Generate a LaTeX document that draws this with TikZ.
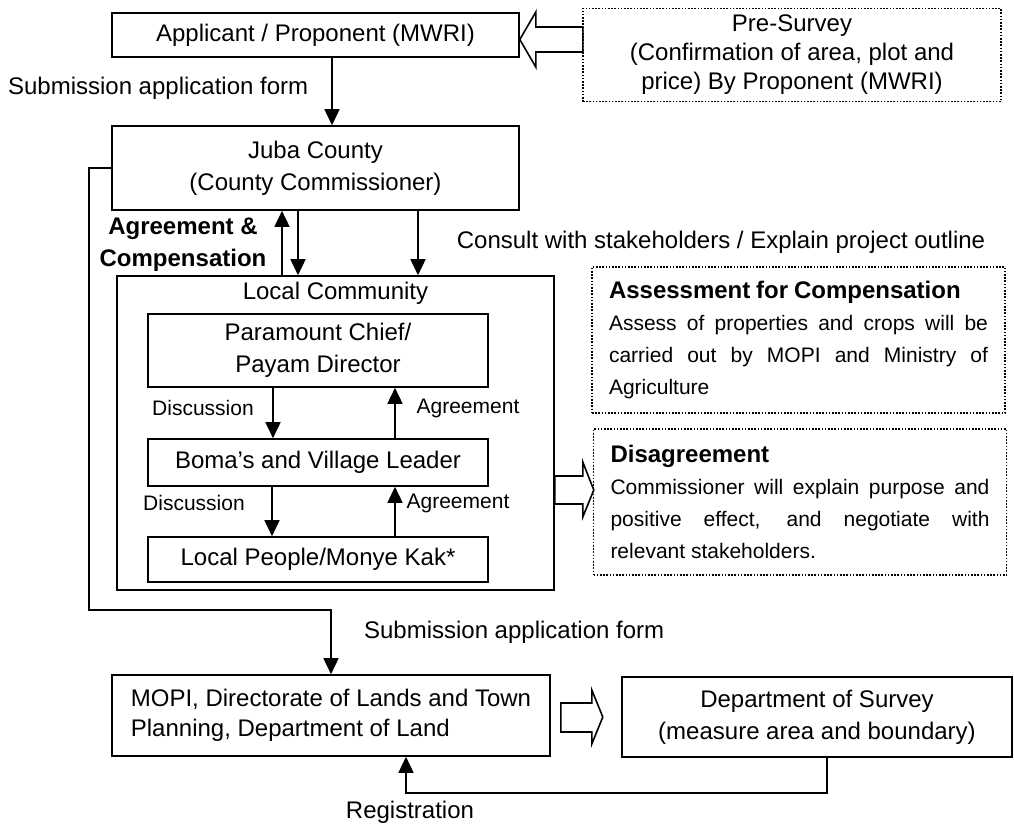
\documentclass[tikz,border=0pt]{standalone}
\usepackage{fontspec}
\setmainfont{Liberation Sans}
\usetikzlibrary{arrows.meta}

\tikzset{
  box/.style={draw, line width=0.8pt, inner sep=0pt, align=center},
  dotbox/.style={draw, line width=0.8pt, dash pattern=on 0.8pt off 0.8pt},
  arr/.style={line width=0.8pt, -{Triangle[length=8pt,width=7.5pt]}},
  hollow/.style={draw, line width=0.8pt, fill=white, line join=miter},
  small/.style={font=\fontsize{10.5}{14}\selectfont},
  note/.style={dotbox, text width=189.5pt, inner xsep=8.5pt, minimum height=73pt,
    align=justify, font=\fontsize{10.5}{16}\selectfont},
}

\begin{document}
\begin{tikzpicture}[x=0.5pt, y=-0.5pt,
    every node/.style={font=\fontsize{12}{16}\selectfont}]
  \useasboundingbox (0,0) rectangle (1014,827);
  % top row
  \node[box, minimum width=203.5pt, minimum height=22pt] (app) at (315.5,35)
    {Applicant / Proponent (MWRI)};
  \node[dotbox, align=center, minimum width=209pt, minimum height=45pt,
    font=\fontsize{12}{14.5}\selectfont] (pre) at (792,55)
    {Pre-Survey\\(Confirmation of area, plot and\\price) By Proponent (MWRI)};
  \node[box, minimum width=203.5pt, minimum height=42pt] (juba) at (315.5,168)
    {Juba County\\(County Commissioner)};
  \node[anchor=west] (sub1) at (1,88) {Submission application form};
  % community
  \node[box, minimum width=218.5pt, minimum height=157pt] (lc) at (335.5,433) {};
  \node[anchor=north] (lclab) at (lc.north) {Local Community};
  \node[box, minimum width=170pt, minimum height=36.5pt] (pc) at (318,350.5)
    {Paramount Chief/\\Payam Director};
  \node[box, minimum width=170pt, minimum height=23.5pt] (boma) at (318,462.5)
    {Boma’s and Village Leader};
  \node[box, minimum width=170pt, minimum height=22.5pt] (lp) at (318,559.5)
    {Local People/Monye Kak*};
  \node[small] (disc1) at (203,408) {Discussion};
  \node[small] (agr1) at (468,408) {Agreement};
  \node[small] (disc2) at (194,503) {Discussion};
  \node[small] (agr2) at (458,503) {Agreement};
  \node[align=center, font=\fontsize{12}{16}\selectfont\bfseries] (agc) at (183,245)
    {Agreement \&\\Compensation};
  \node (consult) at (721,242) {Consult with stakeholders / Explain project outline};
  % notes
  \node[note] (assess) at (798.5,340) {\spaceskip=.278em plus 1em minus .05em
    \hbadness=10000
    {\fontsize{12}{16}\selectfont\bfseries Assessment for Compensation}\par
    Assess of properties and crops will be\linebreak
    carried out by MOPI and Ministry of\linebreak
    Agriculture\par\vspace*{3pt}};
  \node[note] (disag) at (800,502) {\spaceskip=.278em plus 1em minus .05em
    \hbadness=10000
    {\fontsize{12}{16}\selectfont\bfseries Disagreement}\par
    Commissioner will explain purpose and\linebreak
    positive effect, and negotiate with\linebreak
    relevant stakeholders.\par\vspace*{3pt}};
  % bottom row
  \node[box, align=left, minimum width=219pt, minimum height=40.5pt,
    font=\fontsize{12}{15}\selectfont] (mopi) at (331,715.5)
    {MOPI, Directorate of Lands and Town\\Planning, Department of Land};
  \node[box, minimum width=195pt, minimum height=40pt] (survey) at (817,717)
    {Department of Survey\\(measure area and boundary)};
  \node[anchor=west] (sub2) at (357,632) {Submission application form};
  \node (reg) at (410,812) {Registration};
  % connectors
  \coordinate (a1) at ([xshift=8.25pt]app.south);
  \draw[arr] (a1) -- (a1 |- juba.north);
  \coordinate (u1) at ([xshift=-16.75pt]juba.south);
  \draw[arr] (u1 |- lc.north) -- (u1);
  \coordinate (u2) at ([xshift=-8.75pt]juba.south);
  \draw[arr] (u2) -- (u2 |- lc.north);
  \coordinate (u3) at ([xshift=51.25pt]juba.south);
  \draw[arr] (u3) -- (u3 |- lc.north);
  \coordinate (d1) at ([xshift=-22.5pt]pc.south);
  \draw[arr] (d1) -- (d1 |- boma.north);
  \coordinate (g1) at ([xshift=38.5pt]boma.north);
  \draw[arr] (g1) -- (g1 |- pc.south);
  \coordinate (d2) at ([xshift=-23pt]boma.south);
  \draw[arr] (d2) -- (d2 |- lp.north);
  \coordinate (g2) at ([xshift=38.5pt]lp.north);
  \draw[arr] (g2) -- (g2 |- boma.south);
  \draw[arr] (juba.west) -- ++(-22,0) -- ++(0,442) -| (mopi.north);
  \draw[arr] ([xshift=5pt]survey.south) -- ++(0,35) -| ([xshift=37.5pt]mopi.south);
  % hollow arrows
  \coordinate (t1) at ([yshift=-2.25pt]app.east);
  \draw[hollow] (t1) -- ++(16,-27.5) -- ++(0,15) -- ++(47,0) -- ++(0,25)
    -- ++(-47,0) -- ++(0,15) -- cycle;
  \coordinate (t2) at ([yshift=-21.5pt]lc.east);
  \draw[hollow] (t2) -- ++(28,0) -- ++(0,-14) -- ++(11,28) -- ++(-11,27)
    -- ++(0,-13) -- ++(-28,0) -- cycle;
  \coordinate (t3) at ([xshift=5pt,yshift=6.25pt]mopi.east);
  \draw[hollow] (t3) -- ++(31,0) -- ++(0,-13) -- ++(11,27) -- ++(-11,27)
    -- ++(0,-12) -- ++(-31,0) -- cycle;
\end{tikzpicture}
\end{document}
